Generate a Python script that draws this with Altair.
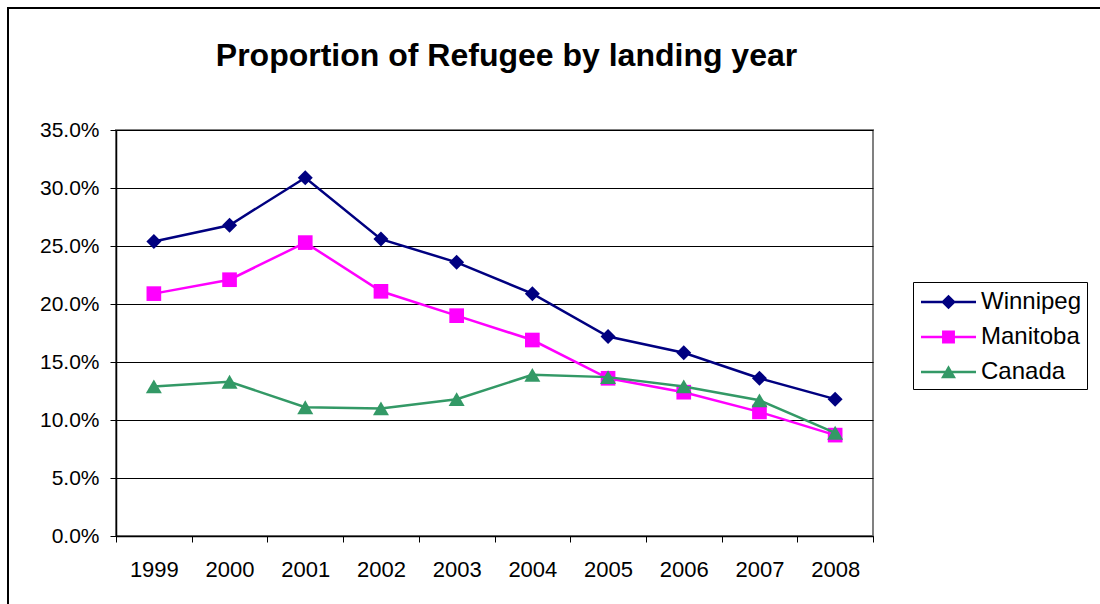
import altair as alt
import pandas as pd

years = ["1999", "2000", "2001", "2002", "2003", "2004", "2005", "2006", "2007", "2008"]
winnipeg = [0.254, 0.268, 0.309, 0.256, 0.236, 0.209, 0.172, 0.158, 0.136, 0.118]
manitoba = [0.209, 0.221, 0.253, 0.211, 0.190, 0.169, 0.136, 0.124, 0.107, 0.087]
canada = [0.129, 0.133, 0.111, 0.110, 0.118, 0.139, 0.137, 0.129, 0.117, 0.089]

series_names = ["Winnipeg", "Manitoba", "Canada"]
series_colors = ["#000080", "#FF00FF", "#339966"]
marker_shapes = ["diamond", "square", "triangle-up"]
marker_sizes = [225, 215, 256]
# legend glyphs: a thin bar (the line) plus the series marker, all filled
legend_paths = [
    "M-0.8,-0.083H2.867V0.083H-0.8Z M1.033,-0.49L1.523,0L1.033,0.49L0.543,0Z",
    "M-0.8,-0.083H2.867V0.083H-0.8Z M0.603,-0.43H1.463V0.43H0.603Z",
    "M-0.8,-0.083H2.867V0.083H-0.8Z M1.033,-0.45L1.533,0.42L0.533,0.42Z",
]
y_ticks = [0.0, 0.05, 0.10, 0.15, 0.20, 0.25, 0.30, 0.35]

rows = []
for name, vals in zip(series_names, [winnipeg, manitoba, canada]):
    for y, v in zip(years, vals):
        rows.append({"year": y, "value": v, "series": name})
df = pd.DataFrame(rows)

FONT = "Liberation Sans"

x_enc = alt.X(
    "year:O",
    scale=alt.Scale(type="band", paddingInner=0, paddingOuter=0, domain=years),
    axis=alt.Axis(title=None, labelAngle=0, tickBand="extent", grid=False,
                  labelFontSize=22, labelPadding=17, tickSize=6,
                  domainColor="black", tickColor="black", domainWidth=1.5,
                  labelColor="black", labelFont=FONT),
)
y_enc = alt.Y(
    "value:Q",
    scale=alt.Scale(domain=[0, 0.3501], nice=False),
    axis=alt.Axis(title=None, format=".1%", values=y_ticks,
                  grid=True, gridColor="black", gridWidth=1,
                  labelFontSize=21, labelPadding=11, tickSize=6,
                  domainColor="black", tickColor="black", domainWidth=1.5,
                  labelColor="black", labelFont=FONT),
)
color_scale = alt.Scale(domain=series_names, range=series_colors)

legend_props = dict(title=None, orient="none", legendX=797, legendY=152,
                    strokeColor="black", fillColor="white", padding=5,
                    symbolSize=900, symbolOpacity=1, symbolStrokeWidth=0,
                    labelFont=FONT, labelFontSize=24, labelColor="black",
                    labelOffset=33, rowPadding=8)

base = alt.Chart(df)

# tiny, fully covered points that carry the legend (colour + shape merged)
legend_layer = base.mark_point(filled=True, opacity=1, size=4).encode(
    x=x_enc, y=y_enc,
    color=alt.Color("series:N", scale=color_scale, legend=alt.Legend(**legend_props)),
    shape=alt.Shape("series:N", scale=alt.Scale(domain=series_names, range=legend_paths),
                    legend=alt.Legend(**legend_props)),
)

layers = [legend_layer]
for name, shp, sz in zip(series_names, marker_shapes, marker_sizes):
    sub = base.transform_filter(alt.datum.series == name)
    layers.append(
        sub.mark_line(strokeWidth=2.5).encode(
            x=x_enc, y=y_enc,
            color=alt.Color("series:N", scale=color_scale, legend=None),
        )
    )
    layers.append(
        sub.mark_point(shape=shp, filled=True, size=sz, opacity=1).encode(
            x=x_enc, y=y_enc,
            color=alt.Color("series:N", scale=color_scale, legend=None),
        )
    )

border = alt.Chart(alt.Data(values=[{}])).mark_rect(
    fillOpacity=0, stroke="black", strokeWidth=2
).encode(
    x=alt.value(-108), y=alt.value(-122), x2=alt.value(1100), y2=alt.value(600)
)

chart = alt.layer(border, *layers).properties(
    width=757, height=406,
    title=alt.TitleParams("Proportion of Refugee by landing year", font=FONT, fontSize=32,
                          fontWeight="bold", anchor="middle", dx=12, offset=-66, color="black"),
    autosize=alt.AutoSizeParams(type="none"),
    padding={"left": 116, "top": 130, "right": 227, "bottom": 68},
    background="white",
).configure_view(stroke="#808080", strokeWidth=2)

chart.save("out.html", embed_options={"renderer": "svg", "actions": False})
